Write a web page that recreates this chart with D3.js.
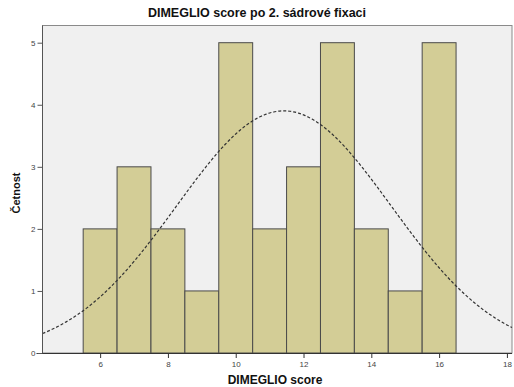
<!DOCTYPE html>
<html>
<head>
<meta charset="utf-8">
<script src="https://cdn.jsdelivr.net/npm/d3@7"></script>
<style>
  body { margin: 0; background: #fff; }
  svg { display: block; font-family: "Liberation Sans", Arial, sans-serif; }
  .tick text { fill: #444; font-size: 8px; }
</style>
</head>
<body>
<svg id="chart" width="514" height="387"></svg>
<script>
'use strict';
// histogram bins (score -> count)
const scores = [6, 7, 8, 9, 10, 11, 12, 13, 14, 15, 16];
const counts = [2, 3, 2, 1, 5, 2, 3, 5, 2, 1, 5];
const xTicks = [6, 8, 10, 12, 14, 16, 18];
const yTicks = [0, 1, 2, 3, 4, 5];
// normal fit shown by SPSS
const fitMean = 11.42;
const fitSd = 3.17;
const fitN = 31;

const svg = d3.select('#chart');
const plotL = 42.5, plotR = 512, plotT = 25.5, plotB = 353;

const x = d3.scaleLinear().domain([4.3, 18.15]).range([plotL, plotR]);
const y = d3.scaleLinear().domain([0, 5]).range([plotB, 42.7]);

// plot area
svg.append('rect')
  .attr('x', plotL).attr('y', plotT)
  .attr('width', plotR - plotL).attr('height', plotB - plotT)
  .attr('fill', '#f0f0f0').attr('stroke', '#8a8a8a').attr('stroke-width', 1);

// bars
svg.append('g').selectAll('rect').data(scores).enter().append('rect')
  .attr('x', d => x(d - 0.5))
  .attr('y', (d, i) => y(counts[i]))
  .attr('width', d => x(d + 0.5) - x(d - 0.5))
  .attr('height', (d, i) => y(0) - y(counts[i]))
  .attr('fill', '#d3cd96')
  .attr('stroke', '#4a4a4a')
  .attr('stroke-width', 1);

// normal curve
const xs = d3.range(x.domain()[0], x.domain()[1] + 0.001, 0.05);
const dens = v => fitN / (fitSd * Math.sqrt(2 * Math.PI)) * Math.exp(-0.5 * ((v - fitMean) / fitSd) ** 2);
svg.append('path')
  .attr('d', d3.line().x(v => x(v)).y(v => y(dens(v)))(xs))
  .attr('fill', 'none')
  .attr('stroke', '#333')
  .attr('stroke-width', 1.2)
  .attr('stroke-dasharray', '3,2');

// axes
const xAxis = svg.append('g').attr('transform', `translate(0,${plotB})`)
  .call(d3.axisBottom(x).tickValues(xTicks).tickFormat(d3.format('d')).tickSize(5).tickPadding(3).tickSizeOuter(0));
xAxis.select('.domain').attr('d', `M${plotL - 6},0.5H${plotR}`).attr('stroke', '#333');
xAxis.selectAll('.tick line').attr('stroke', '#333');

const yAxis = svg.append('g').attr('transform', `translate(${plotL},0)`)
  .call(d3.axisLeft(y).tickValues(yTicks).tickFormat(d3.format('d')).tickSize(5).tickPadding(2).tickSizeOuter(0));
yAxis.select('.domain').attr('d', `M0,${plotT}V${plotB}`).attr('stroke', '#555');
yAxis.selectAll('.tick line').attr('stroke', '#555');
svg.selectAll('.tick text').attr('font-family', '"Liberation Sans", Arial, sans-serif');

// titles
svg.append('text')
  .attr('x', 257).attr('y', 17)
  .attr('text-anchor', 'middle')
  .attr('font-size', 12.5).attr('font-weight', 'bold').attr('fill', '#111')
  .text('DIMEGLIO score po 2. sádrové fixaci');

svg.append('text')
  .attr('x', 275).attr('y', 384)
  .attr('text-anchor', 'middle')
  .attr('font-size', 12).attr('font-weight', 'bold').attr('fill', '#111')
  .text('DIMEGLIO score');

svg.append('text')
  .attr('transform', 'translate(20,193) rotate(-90)')
  .attr('text-anchor', 'middle')
  .attr('font-size', 11).attr('font-weight', 'bold').attr('fill', '#111')
  .text('Četnost');
</script>
</body>
</html>
